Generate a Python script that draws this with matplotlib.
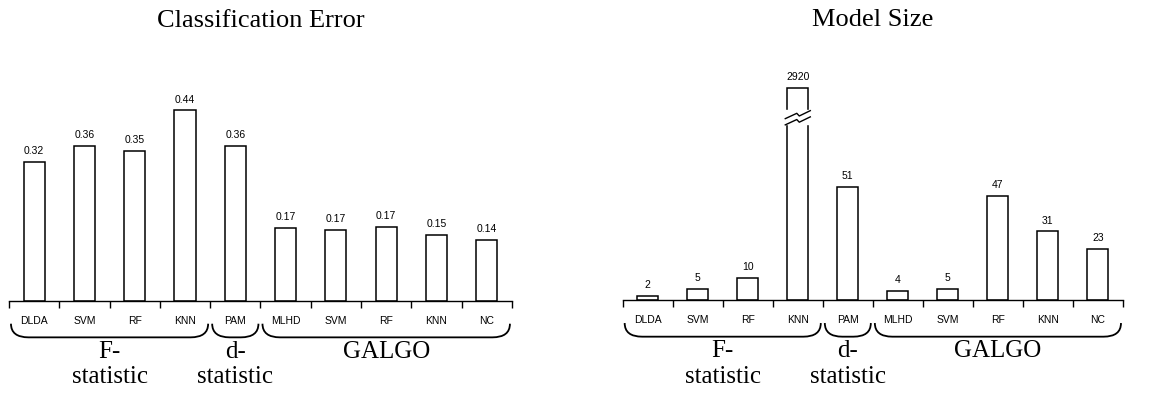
import matplotlib
matplotlib.use("Agg")
import matplotlib.pyplot as plt
import matplotlib.transforms as mtransforms
from matplotlib.path import Path
from matplotlib.patches import PathPatch, Rectangle
import numpy as np

# ---- data ----
methods = ["DLDA", "SVM", "RF", "KNN", "PAM", "MLHD", "SVM", "RF", "KNN", "NC"]
groups = ["F-\nstatistic", "d-\nstatistic", "GALGO"]
group_spans = [(0, 3), (4, 4), (5, 9)]

error_vals = [0.32, 0.358, 0.346, 0.44, 0.358, 0.168, 0.165, 0.172, 0.153, 0.141]
error_labels = ["0.32", "0.36", "0.35", "0.44", "0.36", "0.17", "0.17", "0.17", "0.15", "0.14"]

size_vals = [2, 5, 10, 2920, 51, 4, 5, 47, 31, 23]
size_labels = [str(v) for v in size_vals]
size_cap = 95.5   # height the broken bar is drawn to

SERIF = "Liberation Serif"
SANS = "Liberation Sans"

fig = plt.figure(figsize=(11.63, 4.02), dpi=100)
ax1 = fig.add_axes([0.0077, 0.2488, 0.4325, 0.5386])
ax2 = fig.add_axes([0.5354, 0.2505, 0.4302, 0.5386])

def brace(ax, x0, x1, ytop, ybot, r):
    tr = mtransforms.blended_transform_factory(ax.transData, ax.transAxes)
    verts = [(x0, ytop), (x0, ybot), (x0 + r, ybot),
             (x1 - r, ybot),
             (x1, ybot), (x1, ytop)]
    codes = [Path.MOVETO, Path.CURVE3, Path.CURVE3, Path.LINETO, Path.CURVE3, Path.CURVE3]
    ax.add_patch(PathPatch(Path(verts, codes), transform=tr, fill=False,
                           lw=1.3, color="black", clip_on=False))

def setup(ax, vals, labels, ymax, title):
    x = np.arange(len(methods))
    ax.bar(x, vals, width=0.42, color="white", edgecolor="black", linewidth=1.1, zorder=2)
    ax.set_xlim(-0.5, len(methods) - 0.5)
    ax.set_ylim(0, ymax)
    for s in ["top", "right", "left"]:
        ax.spines[s].set_visible(False)
    ax.spines["bottom"].set_linewidth(1.0)
    ax.set_yticks([])
    ax.set_xticks(np.arange(len(methods) + 1) - 0.5)
    ax.set_xticklabels([])
    ax.tick_params(axis="x", length=5, width=1.0, direction="out")
    ax.set_xticks(x, minor=True)
    ax.set_xticklabels(methods, minor=True, fontsize=7.5, family=SANS)
    ax.tick_params(axis="x", which="minor", length=0, pad=10)
    for xi, v, lab in zip(x, vals, labels):
        ax.annotate(lab, (xi, v), xytext=(0, 5), textcoords="offset points",
                    ha="center", va="bottom", fontsize=7.5, family=SANS)
    ax.set_title(title, family=SERIF, fontsize=19, pad=42)
    tr = mtransforms.blended_transform_factory(ax.transData, ax.transAxes)
    for (a, b), g in zip(group_spans, groups):
        brace(ax, a - 0.46, b + 0.46, -0.105, -0.168, 0.35)
        ax.text((a + b) / 2, -0.18, g, transform=tr, ha="center", va="top",
                family=SERIF, fontsize=18, linespacing=1.2)

setup(ax1, error_vals, error_labels, 0.5, "Classification Error")

size_draw = [min(v, size_cap) for v in size_vals]
setup(ax2, size_draw, size_labels, 97.5, "Model Size")

# axis break on the capped bar
ib = size_vals.index(max(size_vals))
ax2.add_patch(Rectangle((ib - 0.3, 79.5), 0.6, 6.0, color="white", zorder=3))
zx = np.array([-0.25, -0.02, 0.03, 0.25]) + ib
zy = np.array([0.0, 2.4, 1.2, 3.6])
for y0 in (79.0, 81.8):
    ax2.plot(zx, zy + y0, color="black", lw=1.0, zorder=4)

fig.savefig("out.png", dpi=100)
